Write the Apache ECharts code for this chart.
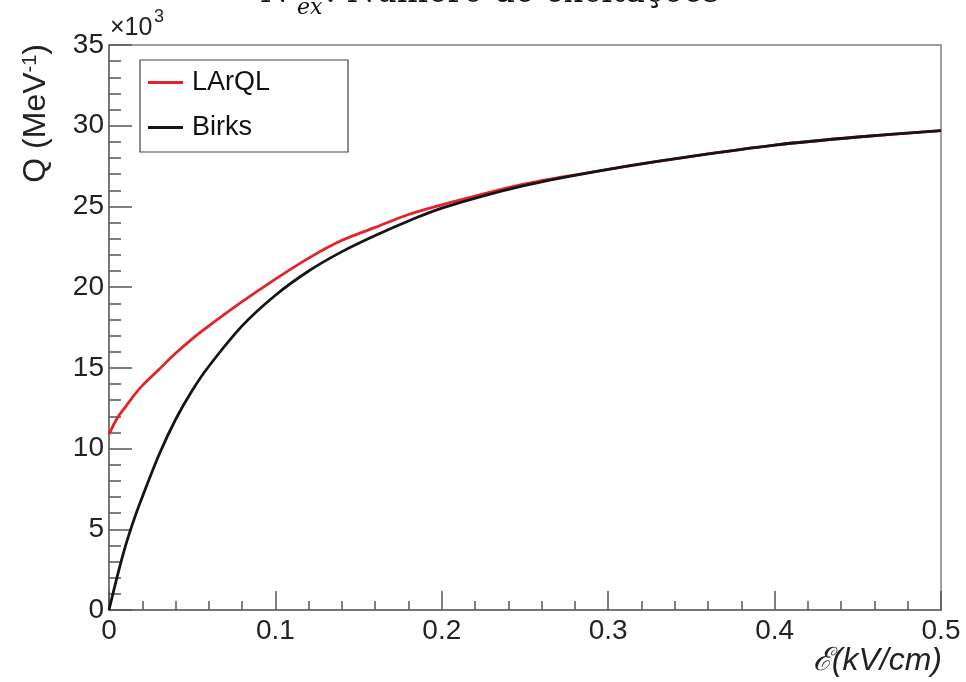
<!DOCTYPE html>
<html>
<head>
<meta charset="utf-8">
<title>Q x campo elétrico</title>
<script src="https://cdn.jsdelivr.net/npm/echarts@6.0.0/dist/echarts.min.js"></script>
<style>
  html, body { margin: 0; padding: 0; background: #fff; }
  #chart { width: 966px; height: 682px; }
</style>
</head>
<body>
<div id="chart"></div>
<script>
// campo elétrico (kV/cm)
var field = [0, 0.005, 0.01, 0.015, 0.02, 0.03, 0.04, 0.05, 0.06, 0.08, 0.1,
             0.12, 0.14, 0.16, 0.18, 0.2, 0.25, 0.3, 0.35, 0.4, 0.45, 0.5];
// Q em unidades de 10^3 MeV^-1
var larql = [10.9, 11.9, 12.6, 13.3, 13.9, 14.9, 15.9, 16.8, 17.6, 19.1, 20.5,
             21.8, 22.9, 23.7, 24.5, 25.1, 26.4, 27.3, 28.1, 28.8, 29.3, 29.7];
var birks = [0, 2.1, 4.0, 5.6, 7.0, 9.6, 11.8, 13.6, 15.1, 17.6, 19.5,
             21.0, 22.2, 23.2, 24.1, 24.9, 26.3, 27.3, 28.1, 28.8, 29.3, 29.7];
var xTicks = [0, 0.1, 0.2, 0.3, 0.4, 0.5];
var yTicks = [0, 5, 10, 15, 20, 25, 30, 35];

var FONT = 'Liberation Sans';

function pairs(ys) {
  return field.map(function (x, i) { return [x, ys[i]]; });
}

var chart = echarts.init(document.getElementById('chart'));

chart.setOption({
  animation: false,
  backgroundColor: '#fff',
  grid: {
    left: 109,
    right: 25,
    top: 45,
    bottom: 72,
    show: true,
    borderColor: '#808080',
    borderWidth: 1.5
  },
  legend: {
    data: ['LArQL', 'Birks'],
    orient: 'vertical',
    left: 140,
    top: 60,
    padding: [9, 78, 11, 8],
    itemGap: 18,
    itemWidth: 35,
    itemHeight: 3,
    icon: 'rect',
    borderColor: '#444',
    borderWidth: 1.2,
    textStyle: { fontFamily: FONT, fontSize: 27, color: '#111', padding: [0, 0, 0, 4] }
  },
  xAxis: {
    type: 'value',
    min: xTicks[0],
    max: xTicks[xTicks.length - 1],
    interval: xTicks[1] - xTicks[0],
    axisLine: { lineStyle: { color: '#6a6a6a', width: 1.5 } },
    axisTick: { inside: true, length: 19, lineStyle: { color: '#555', width: 1.5 } },
    minorTick: { show: true, splitNumber: 5, length: 9, lineStyle: { color: '#555', width: 1.5 } },
    splitLine: { show: false },
    axisLabel: { fontFamily: FONT, fontSize: 28, color: '#222', margin: 7 }
  },
  yAxis: {
    type: 'value',
    min: yTicks[0],
    max: yTicks[yTicks.length - 1],
    interval: yTicks[1] - yTicks[0],
    axisLine: { lineStyle: { color: '#6a6a6a', width: 1.5 } },
    axisTick: { inside: true, length: 23, lineStyle: { color: '#555', width: 1.5 } },
    minorTick: { show: true, splitNumber: 5, length: 12, lineStyle: { color: '#555', width: 1.5 } },
    splitLine: { show: false },
    axisLabel: { fontFamily: FONT, fontSize: 28, color: '#222', margin: 5 }
  },
  series: [
    {
      name: 'LArQL',
      type: 'line',
      data: pairs(larql),
      smooth: 0.3,
      symbol: 'none',
      color: '#e3222a',
      lineStyle: { color: '#e3222a', width: 2.8 }
    },
    {
      name: 'Birks',
      type: 'line',
      data: pairs(birks),
      smooth: 0.3,
      symbol: 'none',
      color: '#151515',
      lineStyle: { color: '#151515', width: 2.8 }
    }
  ],
  graphic: [
    // título cortado no topo
    {
      type: 'text', left: 262, top: -23,
      style: { text: 'N', font: 'italic 33px "DejaVu Serif"', fill: '#111' }
    },
    {
      type: 'text', left: 297, top: -3,
      style: { text: 'ex', font: 'italic 22px "DejaVu Serif"', fill: '#111' }
    },
    {
      type: 'text', left: 325, top: -23,
      style: { text: ': Número de excitações', font: '33px "DejaVu Serif"', fill: '#111' }
    },
    // multiplicador do eixo y
    {
      type: 'text', left: 110, top: 16,
      style: { text: '×10', font: '25px "Liberation Sans"', fill: '#222' }
    },
    {
      type: 'text', left: 154, top: 8,
      style: { text: '3', font: '18px "Liberation Sans"', fill: '#222' }
    },
    // título do eixo y
    {
      type: 'text',
      x: 36, y: 44,
      rotation: Math.PI / 2,
      style: {
        text: '{n|Q (MeV}{s|-1}{n|)}',
        align: 'right',
        verticalAlign: 'middle',
        fill: '#222',
        rich: {
          n: { fontFamily: FONT, fontSize: 32, fill: '#222' },
          s: { fontFamily: FONT, fontSize: 20, fill: '#222', verticalAlign: 'top', padding: [0, 0, 12, 0] }
        }
      }
    },
    // título do eixo x
    {
      type: 'text',
      x: 942, y: 661,
      style: {
        text: 'ℰ(kV/cm)',
        align: 'right',
        verticalAlign: 'middle',
        font: 'italic 32px "Liberation Sans"',
        fill: '#222'
      }
    }
  ]
});
</script>
</body>
</html>
